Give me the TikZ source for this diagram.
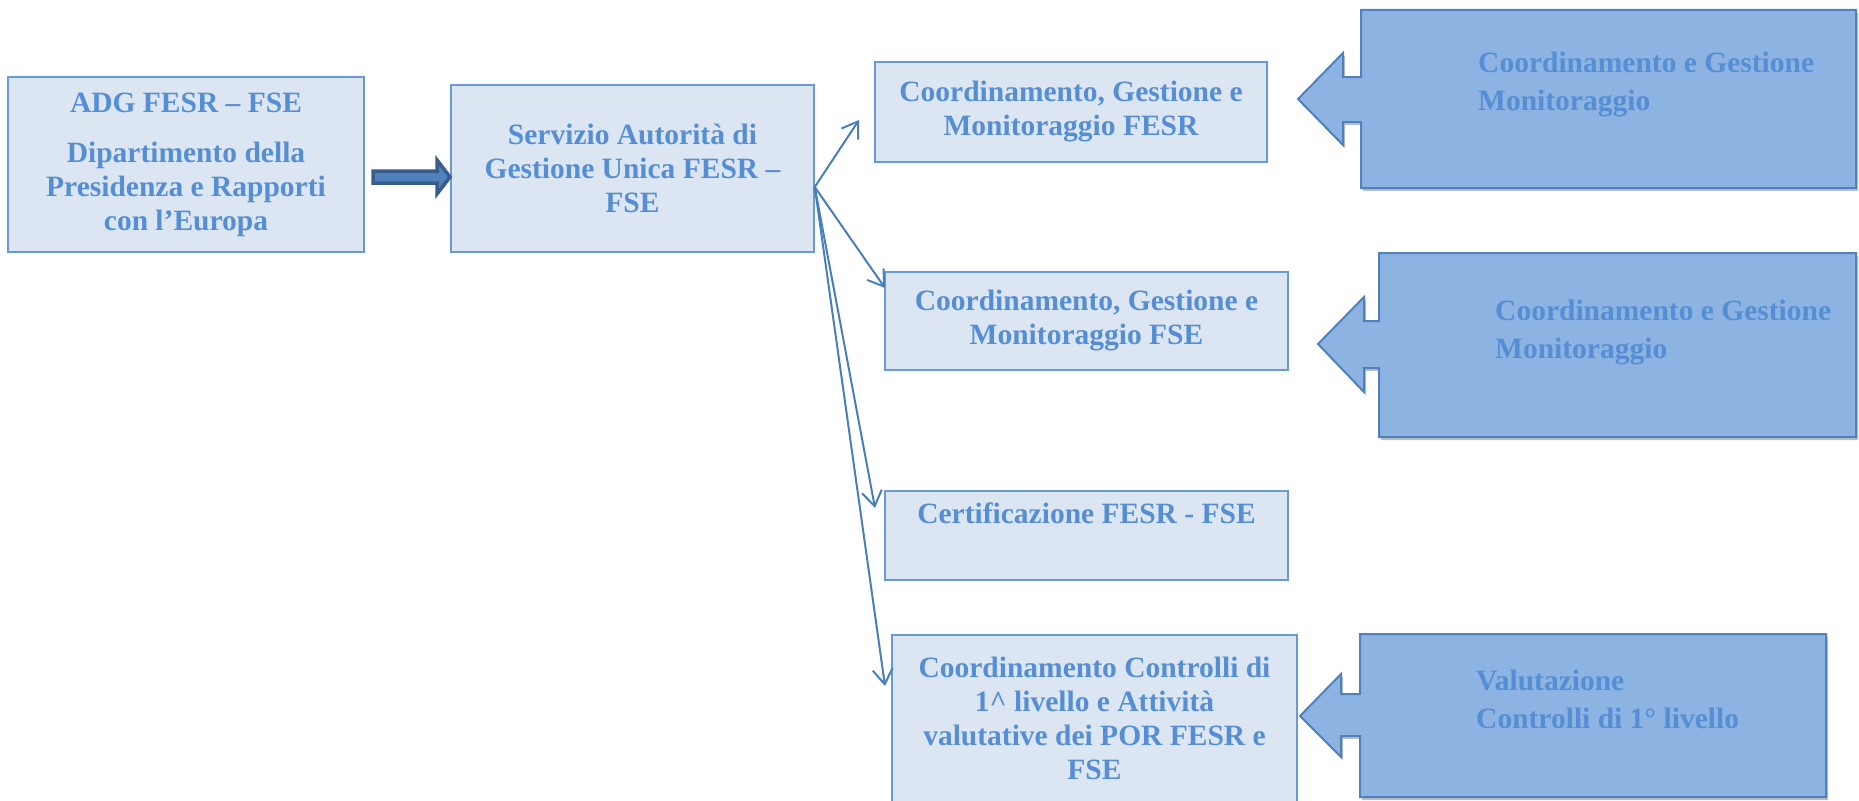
\documentclass[tikz,border=0pt]{standalone}
\usepackage{fontspec}
\setmainfont{Liberation Serif}
\usetikzlibrary{arrows.meta,calc}
\definecolor{boxfill}{HTML}{DCE6F2}
\definecolor{boxline}{HTML}{6A9AD6}
\definecolor{txt}{HTML}{558ED5}
\definecolor{conn}{HTML}{4A7EBB}
\definecolor{callfill}{HTML}{8DB3E2}
\definecolor{callline}{HTML}{4F81BD}
\definecolor{darkarrow}{HTML}{385D8A}
\begin{document}
\begin{tikzpicture}[x=1pt,y=-1pt,
  box/.style={draw=boxline, line width=1.5pt, fill=boxfill, text=txt,
    font=\bfseries\fontsize{29.5}{34}\selectfont, align=center, inner sep=0pt},
  calltext/.style={text=txt, font=\bfseries\fontsize{29.5}{34}\selectfont, inner sep=0pt, anchor=base west},
  callout/.style={draw=callline, line width=2pt, fill=callfill, line join=miter},
  callshadow/.style={fill=black, opacity=0.25},
  conn/.style={draw=conn, line width=2pt, -{Straight Barb[length=15pt,width=20pt,line width=2pt]}},
  bigarrow/.style={draw=darkarrow, line width=3.5pt, fill=callline, line join=miter}]
\useasboundingbox (0,0) rectangle (1859,800);

% main boxes
\node[box, minimum width=356, minimum height=175] (A) at (186,164.5)
  {ADG FESR – FSE\\[16pt]Dipartimento della\\Presidenza e Rapporti\\con l’Europa};
\node[box, minimum width=363, minimum height=167] (B) at (632.5,168.5)
  {Servizio Autorità di\\Gestione Unica FESR –\\FSE};
\node[box, minimum width=392, minimum height=100] (C1) at (1071,112)
  {Coordinamento, Gestione e\\Monitoraggio FESR};
\node[box, minimum width=403, minimum height=98] (C2) at (1086.5,321)
  {Coordinamento, Gestione e\\Monitoraggio FSE};
\node[box, minimum width=403, minimum height=89] (C3) at (1086.5,535.5)
  {Certificazione FESR - FSE\\ \strut};
\node[box, minimum width=405, minimum height=167] (C4) at (1094.5,718.5)
  {Coordinamento Controlli di\\1\textasciicircum{} livello e Attività\\valutative dei POR FESR e\\FSE};

% thick arrow A -> B
\path[bigarrow] (373,171) -- (437,171) -- (437,160) -- (450,177) -- (437,194) -- (437,183) -- (373,183) -- cycle;

% connectors
\coordinate (hub) at ($(B.east)+(0,18.5)$);
\coordinate (e1) at (859,120);
\coordinate (e2) at (885,288);
\coordinate (e3) at (875,508);
\coordinate (e4) at (885,686);
\draw[conn] (hub) -- (e1);
\draw[conn] (hub) -- (e2);
\draw[conn] (hub) -- (e3);
\draw[conn] (hub) -- (e4);

% callouts
\path[callshadow, shift={(2,3)}] (1361,10) -- (1856,10) -- (1856,188) -- (1361,188) -- (1361,122) -- (1343,122) -- (1343,145) -- (1298,99) -- (1343,53) -- (1343,77) -- (1361,77) -- cycle;
\path[callout] (1361,10) -- (1856,10) -- (1856,188) -- (1361,188) -- (1361,122) -- (1343,122) -- (1343,145) -- (1298,99) -- (1343,53) -- (1343,77) -- (1361,77) -- cycle;
\node[calltext] (R1a) at (1478,73) {Coordinamento e Gestione};
\node[calltext] (R1b) at (1478,110) {Monitoraggio};

\path[callshadow, shift={(2,3)}] (1379,253) -- (1856,253) -- (1856,437) -- (1379,437) -- (1379,368) -- (1364,368) -- (1364,392) -- (1318,344) -- (1364,297) -- (1364,321) -- (1379,321) -- cycle;
\path[callout] (1379,253) -- (1856,253) -- (1856,437) -- (1379,437) -- (1379,368) -- (1364,368) -- (1364,392) -- (1318,344) -- (1364,297) -- (1364,321) -- (1379,321) -- cycle;
\node[calltext] (R2a) at (1495,320) {Coordinamento e Gestione};
\node[calltext] (R2b) at (1495,358) {Monitoraggio};

\path[callshadow, shift={(2,3)}] (1360,634) -- (1826,634) -- (1826,797) -- (1360,797) -- (1360,736) -- (1341,736) -- (1341,757) -- (1300,716) -- (1341,674) -- (1341,694) -- (1360,694) -- cycle;
\path[callout] (1360,634) -- (1826,634) -- (1826,797) -- (1360,797) -- (1360,736) -- (1341,736) -- (1341,757) -- (1300,716) -- (1341,674) -- (1341,694) -- (1360,694) -- cycle;
\node[calltext] (R3a) at (1476,690) {Valutazione};
\node[calltext] (R3b) at (1476,728) {Controlli di 1° livello};
\end{tikzpicture}
\end{document}
